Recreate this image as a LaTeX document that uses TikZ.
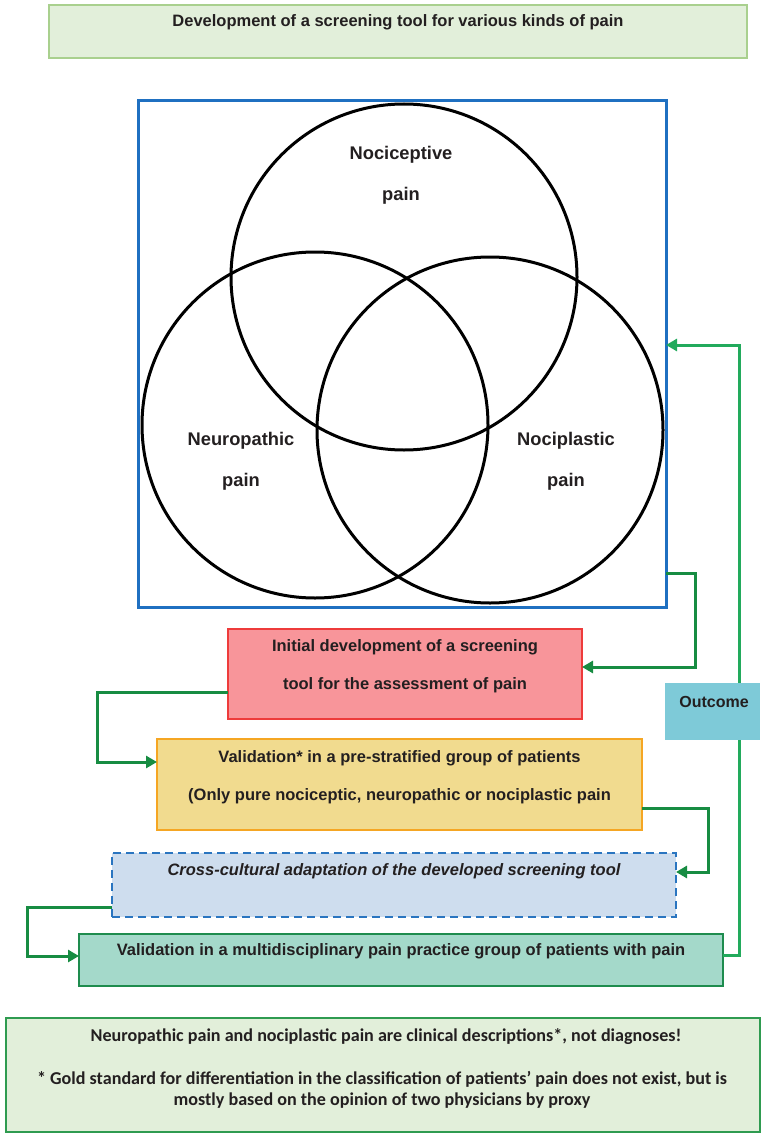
\documentclass[tikz,border=0pt]{standalone}
\usepackage{fontspec}
\setmainfont{Liberation Sans}
\newfontfamily\calfont{Carlito}
\usetikzlibrary{arrows.meta,calc}
\definecolor{txt}{HTML}{231F20}
\definecolor{titlefill}{HTML}{E2EFDA}
\definecolor{titledraw}{HTML}{A9D08E}
\definecolor{vennblue}{HTML}{1F70C1}
\definecolor{redfill}{HTML}{F8959A}
\definecolor{reddraw}{HTML}{EE3B3B}
\definecolor{yelfill}{HTML}{F1DB8F}
\definecolor{yeldraw}{HTML}{F5A623}
\definecolor{bluefill}{HTML}{CEDDEE}
\definecolor{bluedraw}{HTML}{2A75C0}
\definecolor{tealfill}{HTML}{A4D9CA}
\definecolor{tealdraw}{HTML}{1E8C4E}
\definecolor{outfill}{HTML}{7ECAD8}
\definecolor{botdraw}{HTML}{2F9B50}
\definecolor{conngreen}{HTML}{178C42}
\definecolor{loopgreen}{HTML}{22AA5C}
\tikzset{
  boxbase/.style={rectangle, inner sep=0pt, outer sep=0pt},
  txtnode/.style={text=txt, font=\bfseries\fontsize{16.5}{38}\selectfont, align=center, inner sep=0pt},
  conn/.style={draw=conngreen, line width=3pt, -{Triangle[length=11pt,width=12pt]}},
  loopconn/.style={draw=loopgreen, line width=3pt, -{Triangle[length=11pt,width=12pt]}},
  circ/.style={circle, draw=black, line width=3pt, minimum size=346pt, inner sep=0pt},
  circlabel/.style={text=txt, font=\bfseries\fontsize{18.3}{41}\selectfont, align=center, inner sep=0pt},
  notetext/.style={text=txt, font=\calfont\bfseries\fontsize{18.1}{21.5}\selectfont, align=center, inner sep=0pt}
}
\begin{document}
\begin{tikzpicture}[x=1pt,y=-1pt]
\useasboundingbox (0,0) rectangle (760,1134);
% title
\node[boxbase, fill=titlefill, draw=titledraw, line width=2pt, minimum width=698pt, minimum height=53pt] (title) at (398,31.5) {};
\node[txtnode] (titletxt) at (398,22) {Development of a screening tool for various kinds of pain};
% venn frame
\node[boxbase, draw=vennblue, line width=3pt, minimum width=528pt, minimum height=506pt] (venn) at (402,354) {};
\node[circ] (c1) at (404,277) {};
\node[circ] (c2) at (315,425) {};
\node[circ] (c3) at (490,430) {};
\node[circlabel] (l1) at (401,175) {Nociceptive\\pain};
\node[circlabel] (l2) at (241,461) {Neuropathic\\pain};
\node[circlabel] (l3) at (566,461) {Nociplastic\\pain};
% boxes
\node[boxbase, fill=redfill, draw=reddraw, line width=2pt, minimum width=354pt, minimum height=90pt] (red) at (405,674) {};
\node[txtnode] (redtxt) at (405,666) {Initial development of a screening\\tool for the assessment of pain};
\node[boxbase, fill=yelfill, draw=yeldraw, line width=2pt, minimum width=485pt, minimum height=91pt] (yel) at (399.5,784.5) {};
\node[txtnode] (yeltxt) at (399.5,777) {Validation* in a pre-stratified group of patients\\(Only pure nociceptic, neuropathic or nociplastic pain};
\node[boxbase, fill=bluefill, draw=bluedraw, line width=2pt, dash pattern=on 8pt off 5pt, minimum width=564pt, minimum height=64pt] (cross) at (394,885) {};
\node[txtnode, font=\bfseries\itshape\fontsize{16.5}{38}\selectfont] (crosstxt) at (394,871) {Cross-cultural adaptation of the developed screening tool};
\node[boxbase, fill=tealfill, draw=tealdraw, line width=2pt, minimum width=644pt, minimum height=52pt] (teal) at (401,960) {};
\node[txtnode] (tealtxt) at (401,951) {Validation in a multidisciplinary pain practice group of patients with pain};
% connectors
\draw[conn] ($(venn.south east)+(0,-34)$) -- ++(29,0) |- ($(red.east)+(0,-7)$);
\draw[conn] ($(red.west)+(0,18)$) -- ++(-131,0) |- ($(yel.west)+(0,-22.5)$);
\draw[conn] ($(yel.east)+(0,23.5)$) -- ++(66,0) |- ($(cross.east)+(0,-13)$);
\draw[conn] ($(cross.west)+(0,22)$) -- ++(-85,0) |- ($(teal.west)+(0,-4)$);
\draw[loopconn] ($(teal.east)+(0,-5)$) -- ++(16,0) |- ($(venn.east)+(0,-9)$);
% outcome
\node[boxbase, fill=outfill, minimum width=95pt, minimum height=57pt] (outcome) at (712.5,711.5) {};
\node[txtnode, font=\bfseries\fontsize{16}{20}\selectfont] (outtxt) at (714,702) {Outcome};
% bottom note
\node[boxbase, fill=titlefill, draw=botdraw, line width=2pt, minimum width=754pt, minimum height=114pt] (note) at (383,1075) {};
\node[notetext] (notetxt1) at (386,1037) {Neuropathic pain and nociplastic pain are clinical descriptions*, not diagnoses!};
\node[notetext] (notetxt2) at (382,1090) {* Gold standard for differentiation in the classification of patients’ pain does not exist, but is\\mostly based on the opinion of two physicians by proxy};
\end{tikzpicture}
\end{document}
